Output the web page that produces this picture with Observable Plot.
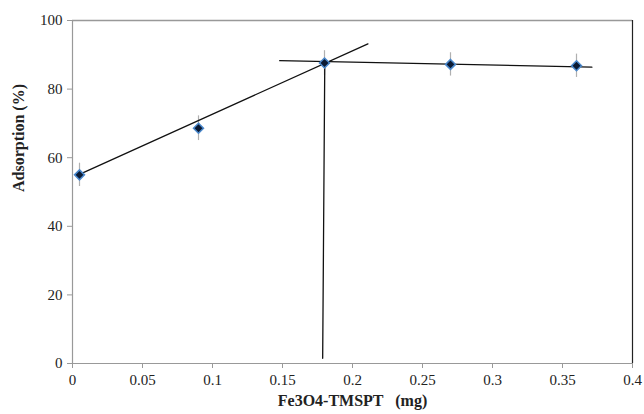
<!DOCTYPE html>
<html>
<head>
<meta charset="utf-8">
<script src="https://cdn.jsdelivr.net/npm/d3@7"></script>
<script src="https://cdn.jsdelivr.net/npm/@observablehq/plot@0.6"></script>
<style>
  html, body { margin: 0; padding: 0; background: #fff; }
  #chart { width: 644px; height: 414px; }
  #chart text { font-family: "Liberation Serif", "DejaVu Serif", serif; }
</style>
</head>
<body>
<div id="chart"></div>
<script>
// Measured points
const doseMg = [0.005, 0.09, 0.18, 0.27, 0.36];
const adsorption = [55, 68.6, 87.6, 87.2, 86.8];
const errPlusMinus = [3.4, 3.6, 3.6, 3.4, 3.4];

// Hand-drawn trend lines (endpoints)
const riseLineX = [0.003, 0.211];
const riseLineY = [54.8, 93.2];
const plateauLineX = [0.148, 0.371];
const plateauLineY = [88.3, 86.4];
const dropLineX = [0.1802, 0.1787];
const dropLineY = [88, 1.5];

// Axis ticks
const xTicks = [0, 0.05, 0.1, 0.15, 0.2, 0.25, 0.3, 0.35, 0.4];
const xTickLabels = ["0", "0.05", "0.1", "0.15", "0.2", "0.25", "0.3", "0.35", "0.4"];
const yTicks = [0, 20, 40, 60, 80, 100];

const points = doseMg.map((x, i) => ({x, y: adsorption[i], e: errPlusMinus[i]}));
const rise = riseLineX.map((x, i) => ({x, y: riseLineY[i]}));
const plateau = plateauLineX.map((x, i) => ({x, y: plateauLineY[i]}));
const drop = dropLineX.map((x, i) => ({x, y: dropLineY[i]}));

const SERIF = "'Liberation Serif', 'DejaVu Serif', serif";

const chart = Plot.plot({
  width: 644,
  height: 414,
  marginLeft: 72,
  marginRight: 12,
  marginTop: 20,
  marginBottom: 51,
  style: {fontFamily: SERIF, fontSize: "15px", color: "#222", background: "#fff"},
  x: {domain: [0, 0.4]},
  y: {domain: [0, 100]},
  marks: [
    Plot.axisX({
      ticks: xTicks,
      tickFormat: d => xTickLabels[xTicks.indexOf(d)],
      tickSize: 5,
      tickPadding: 6,
      stroke: "#999",
      fill: "#222",
      fontSize: 15,
      label: null
    }),
    Plot.axisY({
      ticks: yTicks,
      tickSize: 5,
      tickPadding: 5,
      stroke: "#999",
      fill: "#222",
      fontSize: 15,
      label: null
    }),
    Plot.text(["Fe3O4-TMSPT   (mg)"], {
      frameAnchor: "bottom", dy: 42, fontSize: 16, fontWeight: "bold", fill: "#222", fontFamily: SERIF
    }),
    Plot.text(["Adsorption (%)"], {
      frameAnchor: "left", dx: -54, rotate: -90, fontSize: 16, fontWeight: "bold", fill: "#222", fontFamily: SERIF
    }),
    Plot.ruleY([0], {stroke: "#999", strokeWidth: 1.2}),
    Plot.ruleY([100], {stroke: "#999", strokeWidth: 1.5}),
    Plot.ruleX([0], {stroke: "#999", strokeWidth: 1.2}),
    Plot.ruleX([0.4], {stroke: "#222", strokeWidth: 1.2}),
    Plot.ruleX(points, {x: "x", y1: d => d.y - d.e, y2: d => d.y + d.e, stroke: "#b0b0b0", strokeWidth: 1.2}),
    Plot.line(rise, {x: "x", y: "y", stroke: "#111", strokeWidth: 1.3}),
    Plot.line(plateau, {x: "x", y: "y", stroke: "#111", strokeWidth: 1.3}),
    Plot.line(drop, {x: "x", y: "y", stroke: "#111", strokeWidth: 1.3}),
    Plot.dot(points, {x: "x", y: "y", symbol: "diamond2", r: 4.5, fill: "#0b1a33", stroke: "#4a88cc", strokeWidth: 1.5})
  ]
});

document.getElementById("chart").append(chart);
</script>
</body>
</html>
